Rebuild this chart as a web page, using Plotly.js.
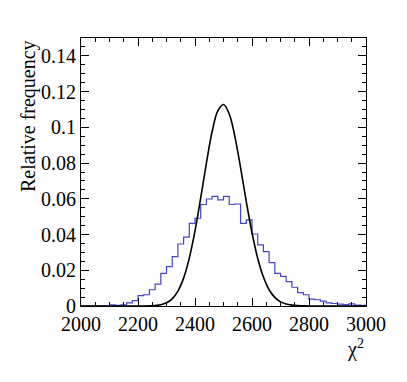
<!DOCTYPE html>
<html>
<head>
<meta charset="utf-8">
<script src="https://cdn.plot.ly/plotly-3.0.1.min.js"></script>
<style>
  html, body { margin: 0; padding: 0; background: #fff; }
  #chart { width: 407px; height: 382px; }
</style>
</head>
<body>
<div id="chart"></div>
<script>
// histogram: 50 bins of width 20 from 2000 to 3000
const binStart = 2000;
const binWidth = 20;
const histValues = [
  0, 0, 0, 0, 0,
  0.0006, 0.0003, 0.0006, 0.0018, 0.003,
  0.0058, 0.0063, 0.0091, 0.0122, 0.0183,
  0.022, 0.0276, 0.0347, 0.0385, 0.0463,
  0.0491, 0.0568, 0.0599, 0.0614, 0.0594,
  0.0614, 0.0568, 0.0571, 0.0463, 0.0482,
  0.0403, 0.0342, 0.0304, 0.0243, 0.0183,
  0.0166, 0.0136, 0.0105, 0.0075, 0.0063,
  0.0038, 0.0035, 0.0027, 0.0018, 0.0014,
  0.001, 0.0008, 0.0012, 0.0005, 0.0003,
];

// expected curve
const curveX = [
  2000, 2200, 2220, 2240, 2260, 2280, 2300, 2320, 2340, 2360, 2380,
  2400, 2420, 2440, 2460, 2480, 2500, 2520, 2540, 2560, 2580,
  2600, 2620, 2640, 2660, 2680, 2700, 2720, 2740, 2760, 2780, 2800, 3000,
];
const curveY = [
  0, 0, 0, 0.0001, 0.0003, 0.0007, 0.0018, 0.004, 0.0083, 0.0156, 0.0268,
  0.042, 0.0605, 0.08, 0.0975, 0.1092, 0.1128, 0.1075, 0.0948, 0.0773, 0.0584,
  0.041, 0.0267, 0.0162, 0.0091, 0.0048, 0.0023, 0.0011, 0.0005, 0.0002, 0.0001, 0, 0,
];

const xTitle = "χ<sup>2</sup>";
const yTitle = "Relative frequency";

// Times-like face, as in the original
const serif = "Times New Roman, Times, Liberation Serif, DejaVu Serif, serif";

// step outline: left edges plus the final right edge
const histX = histValues.map((v, i) => binStart + i * binWidth);
histX.push(binStart + histValues.length * binWidth);
const histY = histValues.concat([histValues[histValues.length - 1]]);

const traces = [
  {
    x: histX,
    y: histY,
    type: "scatter",
    mode: "lines",
    line: { shape: "hv", color: "#4545c8", width: 1.2 },
    hoverinfo: "skip",
  },
  {
    x: curveX,
    y: curveY,
    type: "scatter",
    mode: "lines",
    line: { shape: "spline", smoothing: 1, color: "#000", width: 1.6 },
    hoverinfo: "skip",
  },
];

const axisCommon = {
  showline: true,
  linecolor: "#000",
  linewidth: 1,
  mirror: "allticks",
  ticks: "inside",
  ticklen: 8,
  tickwidth: 1,
  tickcolor: "#000",
  showgrid: false,
  zeroline: false,
  tickfont: { family: serif, size: 20, color: "#000" },
};

const layout = {
  width: 407,
  height: 382,
  margin: { l: 81, r: 41, t: 38, b: 76 },
  paper_bgcolor: "#fff",
  plot_bgcolor: "#fff",
  showlegend: false,
  font: { family: serif, size: 20, color: "#000" },
  xaxis: Object.assign({}, axisCommon, {
    range: [2000, 3000],
    tick0: 2000,
    dtick: 200,
    minor: { ticks: "inside", dtick: 50, ticklen: 4, tickcolor: "#000", showgrid: false },
  }),
  yaxis: Object.assign({}, axisCommon, {
    range: [0, 0.15],
    tick0: 0,
    dtick: 0.02,
    minor: { ticks: "inside", dtick: 0.005, ticklen: 4, tickcolor: "#000", showgrid: false },
  }),
  annotations: [
    {
      text: yTitle,
      xref: "paper",
      yref: "paper",
      x: -0.186,
      y: 1,
      xanchor: "center",
      yanchor: "top",
      textangle: -90,
      showarrow: false,
      font: { family: serif, size: 20, color: "#000" },
    },
    {
      text: xTitle,
      xref: "paper",
      yref: "paper",
      x: 1,
      y: -0.211,
      xanchor: "right",
      yanchor: "bottom",
      showarrow: false,
      font: { family: serif, size: 20, color: "#000" },
    },
  ],
};

Plotly.newPlot("chart", traces, layout, { displayModeBar: false, staticPlot: true });
</script>
</body>
</html>
